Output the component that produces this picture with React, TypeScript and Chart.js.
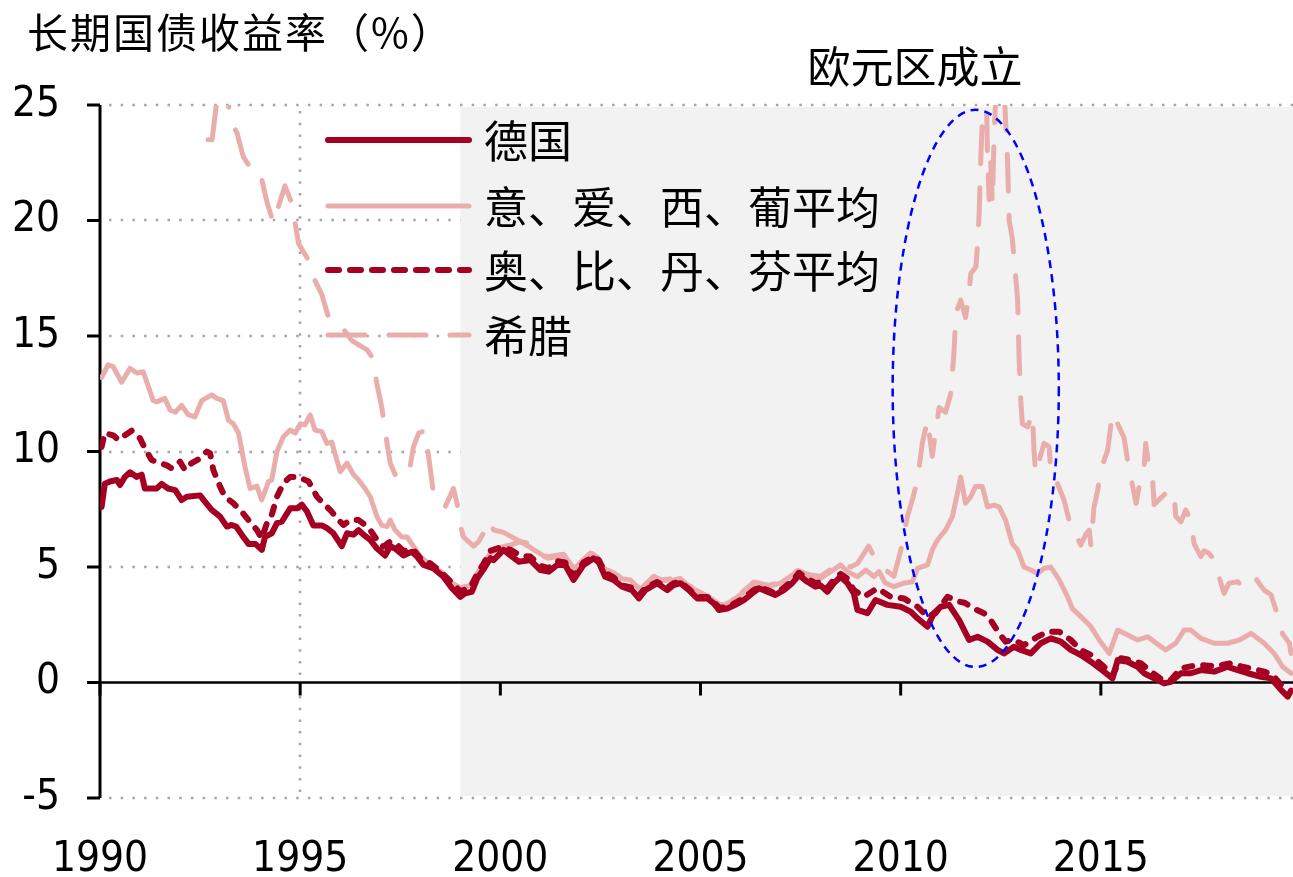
import React, { useEffect, useRef } from "react";
import { Chart, registerables } from "chart.js";

Chart.register(...registerables);

const TITLE = "长期国债收益率（%）";
const ANNOTATION = "欧元区成立";
const SERIES_NAMES = ["德国", "意、爱、西、葡平均", "奥、比、丹、芬平均", "希腊"];
const X_TICKS = [1990, 1995, 2000, 2005, 2010, 2015];
const Y_TICKS = [-5, 0, 5, 10, 15, 20, 25];
const EURO_START = 1999.0;
// ellipse highlighting the Greek crisis: [centerYear, centerValue, halfWidthYears, halfHeightValue]
const CRISIS_ELLIPSE = [2011.875, 12.73, 2.075, 12.06];

const germany: [number, number][] = [
  [1990.04, 7.6], [1990.12, 8.6], [1990.25, 8.7], [1990.42, 8.77], [1990.5, 8.55], [1990.62, 8.9], [1990.75, 9.1],
  [1990.92, 8.9], [1991.04, 9.0], [1991.12, 8.4], [1991.42, 8.4], [1991.54, 8.6], [1991.7, 8.4], [1991.88, 8.33],
  [1992.04, 7.9], [1992.17, 8.04], [1992.5, 8.1], [1992.62, 7.83], [1992.79, 7.47], [1993.0, 7.18], [1993.17, 6.75],
  [1993.29, 6.82], [1993.4, 6.75], [1993.54, 6.4], [1993.71, 6.0], [1993.88, 6.0], [1994.04, 5.74], [1994.12, 6.3],
  [1994.29, 6.46], [1994.42, 6.9], [1994.54, 6.96], [1994.75, 7.54], [1994.92, 7.54], [1995.04, 7.7], [1995.17, 7.4],
  [1995.33, 6.8], [1995.54, 6.8], [1995.67, 6.68], [1995.83, 6.46], [1996.04, 5.9], [1996.17, 6.46], [1996.33, 6.4],
  [1996.46, 6.6], [1996.58, 6.4], [1996.75, 6.17], [1996.92, 5.8], [1997.12, 5.5], [1997.25, 5.9], [1997.37, 5.8],
  [1997.58, 5.5], [1997.79, 5.66], [1997.92, 5.45], [1998.08, 5.09], [1998.33, 4.94], [1998.58, 4.58], [1998.79, 4.08],
  [1999.0, 3.71], [1999.12, 3.86], [1999.29, 3.93], [1999.42, 4.5], [1999.58, 4.9], [1999.75, 5.38], [1999.83, 5.3],
  [2000.08, 5.74], [2000.25, 5.5], [2000.46, 5.23], [2000.75, 5.3], [2001.0, 4.87], [2001.21, 4.8], [2001.42, 5.09],
  [2001.62, 5.09], [2001.83, 4.44], [2002.08, 5.09], [2002.33, 5.38], [2002.46, 5.2], [2002.62, 4.58], [2002.83, 4.44],
  [2003.04, 4.15], [2003.29, 4.0], [2003.46, 3.64], [2003.62, 4.0], [2003.92, 4.3], [2004.17, 4.0], [2004.33, 4.22],
  [2004.5, 4.3], [2004.71, 4.0], [2004.92, 3.64], [2005.17, 3.64], [2005.33, 3.43], [2005.46, 3.14], [2005.67, 3.2],
  [2005.87, 3.36], [2006.08, 3.57], [2006.29, 3.86], [2006.46, 4.08], [2006.67, 3.93], [2006.87, 3.79], [2007.08, 4.0],
  [2007.29, 4.3], [2007.46, 4.65], [2007.67, 4.36], [2007.87, 4.15], [2008.0, 4.2], [2008.17, 3.93], [2008.33, 4.3],
  [2008.5, 4.58], [2008.67, 4.3], [2008.83, 3.86], [2008.92, 3.14], [2009.17, 3.0], [2009.37, 3.57], [2009.67, 3.36],
  [2010.0, 3.28], [2010.25, 3.07], [2010.42, 2.78], [2010.67, 2.42], [2010.83, 3.0], [2011.0, 3.28], [2011.21, 3.36],
  [2011.46, 2.7], [2011.71, 1.84], [2011.92, 1.98], [2012.17, 1.77], [2012.42, 1.41], [2012.58, 1.26], [2012.83, 1.55],
  [2013.0, 1.41], [2013.25, 1.26], [2013.5, 1.7], [2013.75, 1.91], [2014.0, 1.77], [2014.25, 1.41], [2014.5, 1.19],
  [2014.75, 0.9], [2015.08, 0.47], [2015.29, 0.18], [2015.42, 0.97], [2015.67, 0.9], [2015.92, 0.68], [2016.08, 0.4],
  [2016.33, 0.18], [2016.58, -0.04], [2016.75, 0.03], [2017.0, 0.4], [2017.25, 0.4], [2017.5, 0.54], [2017.83, 0.47],
  [2018.17, 0.68], [2018.42, 0.54], [2018.67, 0.4], [2019.0, 0.25], [2019.25, 0.18], [2019.5, -0.32], [2019.67, -0.61],
  [2019.75, -0.35],
];

const periphery: [number, number][] = [
  [1990.04, 13.2], [1990.2, 13.75], [1990.33, 13.67], [1990.54, 13.0], [1990.75, 13.6], [1990.92, 13.4], [1991.08, 13.45],
  [1991.33, 12.2], [1991.42, 12.15], [1991.62, 12.3], [1991.75, 11.8], [1991.88, 11.7], [1992.04, 12.0], [1992.2, 11.6],
  [1992.37, 11.5], [1992.54, 12.2], [1992.79, 12.45], [1992.92, 12.3], [1993.08, 12.2], [1993.21, 11.35], [1993.33, 11.2],
  [1993.46, 10.8], [1993.62, 9.35], [1993.75, 8.4], [1993.92, 8.5], [1994.04, 7.9], [1994.21, 8.7], [1994.29, 8.77],
  [1994.42, 10.0], [1994.58, 10.64], [1994.75, 10.93], [1994.88, 10.8], [1995.0, 11.2], [1995.12, 11.15], [1995.25, 11.58],
  [1995.37, 10.93], [1995.54, 10.86], [1995.67, 10.35], [1995.79, 10.4], [1996.0, 9.13], [1996.17, 9.5], [1996.33, 9.0],
  [1996.46, 8.77], [1996.62, 8.4], [1996.75, 8.04], [1996.92, 7.18], [1997.04, 6.8], [1997.17, 6.75], [1997.25, 7.03],
  [1997.37, 6.6], [1997.54, 6.3], [1997.67, 6.3], [1997.83, 5.9], [1998.0, 5.45], [1998.17, 5.2], [1998.33, 5.0],
  [1998.6, 4.7], [1998.8, 4.3], [1999.0, 4.1], [1999.25, 4.2], [1999.45, 4.8], [1999.75, 5.6], [2000.0, 5.85],
  [2000.25, 5.95], [2000.5, 6.1], [2000.7, 5.9], [2000.92, 5.65], [2001.17, 5.38], [2001.58, 5.5], [2001.83, 4.87],
  [2002.0, 5.2], [2002.25, 5.6], [2002.4, 5.4], [2002.58, 4.9], [2002.83, 4.72], [2003.0, 4.5], [2003.25, 4.44],
  [2003.5, 4.0], [2003.83, 4.58], [2004.0, 4.4], [2004.33, 4.44], [2004.5, 4.5], [2004.83, 4.0], [2005.17, 3.71],
  [2005.5, 3.28], [2005.75, 3.5], [2006.0, 3.79], [2006.33, 4.3], [2006.71, 4.15], [2007.0, 4.3], [2007.42, 4.8],
  [2007.75, 4.58], [2008.0, 4.5], [2008.5, 5.09], [2008.67, 4.8], [2008.92, 4.58], [2009.13, 4.87], [2009.33, 4.58],
  [2009.46, 4.8], [2009.62, 4.3], [2009.83, 4.15], [2010.08, 4.3], [2010.29, 4.36], [2010.42, 4.94], [2010.67, 5.09],
  [2010.79, 5.74], [2010.92, 6.17], [2011.12, 6.6], [2011.29, 7.18], [2011.42, 8.2], [2011.5, 8.9], [2011.62, 7.76],
  [2011.75, 8.04], [2011.87, 8.48], [2012.04, 8.48], [2012.17, 7.6], [2012.33, 7.68], [2012.46, 7.6], [2012.62, 7.03],
  [2012.79, 6.0], [2012.92, 5.74], [2013.08, 5.0], [2013.25, 4.87], [2013.42, 4.72], [2013.58, 4.94], [2013.75, 5.0],
  [2013.96, 4.44], [2014.17, 3.71], [2014.29, 3.2], [2014.5, 2.85], [2014.75, 2.42], [2014.96, 1.84], [2015.21, 1.26],
  [2015.42, 2.27], [2015.67, 2.06], [2015.92, 1.84], [2016.17, 1.98], [2016.33, 1.77], [2016.62, 1.41], [2016.87, 1.7],
  [2017.08, 2.27], [2017.25, 2.27], [2017.5, 1.91], [2017.83, 1.7], [2018.17, 1.7], [2018.46, 1.84], [2018.75, 2.13],
  [2019.08, 1.7], [2019.33, 1.26], [2019.54, 0.68], [2019.75, 0.4],
];

const core: [number, number][] = [
  [1990.04, 10.2], [1990.12, 10.8], [1990.33, 10.7], [1990.46, 10.5], [1990.62, 10.7], [1990.79, 10.9], [1991.0, 10.57],
  [1991.12, 10.14], [1991.29, 9.63], [1991.5, 9.5], [1991.67, 9.4], [1991.79, 9.27], [1992.0, 9.56], [1992.12, 9.2],
  [1992.29, 9.5], [1992.5, 9.7], [1992.67, 10.0], [1992.75, 9.92], [1992.83, 9.2], [1993.0, 8.48], [1993.12, 8.04],
  [1993.33, 7.76], [1993.54, 7.4], [1993.71, 7.03], [1993.92, 6.6], [1994.04, 6.24], [1994.17, 6.9], [1994.29, 7.25],
  [1994.42, 8.04], [1994.58, 8.62], [1994.75, 8.9], [1994.96, 8.9], [1995.21, 8.7], [1995.33, 8.33], [1995.42, 8.04],
  [1995.62, 7.68], [1995.75, 7.47], [1995.96, 7.03], [1996.08, 6.82], [1996.25, 7.03], [1996.46, 7.03], [1996.62, 6.82],
  [1996.75, 6.6], [1996.92, 6.17], [1997.08, 5.88], [1997.25, 6.1], [1997.4, 6.0], [1997.58, 5.7], [1997.83, 5.74],
  [1998.04, 5.3], [1998.25, 5.16], [1998.5, 4.8], [1998.8, 4.3], [1999.0, 3.95], [1999.25, 4.1], [1999.42, 4.7],
  [1999.6, 5.2], [1999.75, 5.7], [2000.0, 5.85], [2000.25, 5.75], [2000.5, 5.5], [2000.75, 5.45], [2001.0, 5.05],
  [2001.2, 4.95], [2001.42, 5.25], [2001.62, 5.2], [2001.83, 4.6], [2002.08, 5.2], [2002.33, 5.45], [2002.46, 5.3],
  [2002.62, 4.75], [2002.83, 4.55], [2003.04, 4.2], [2003.29, 4.1], [2003.46, 3.75], [2003.62, 4.1], [2003.92, 4.35],
  [2004.17, 4.1], [2004.33, 4.3], [2004.5, 4.35], [2004.71, 4.05], [2004.92, 3.7], [2005.17, 3.7], [2005.33, 3.5],
  [2005.46, 3.25], [2005.67, 3.25], [2005.87, 3.45], [2006.08, 3.65], [2006.29, 3.95], [2006.46, 4.15], [2006.67, 4.0],
  [2006.87, 3.85], [2007.08, 4.1], [2007.29, 4.4], [2007.46, 4.75], [2007.67, 4.5], [2007.87, 4.3], [2008.0, 4.35],
  [2008.17, 4.1], [2008.33, 4.45], [2008.5, 4.7], [2008.67, 4.5], [2008.83, 4.0], [2009.08, 3.71], [2009.42, 4.08],
  [2009.75, 3.71], [2010.08, 3.64], [2010.42, 3.28], [2010.67, 2.85], [2010.87, 3.0], [2011.17, 3.71], [2011.46, 3.5],
  [2011.6, 3.45], [2011.83, 3.2], [2012.08, 3.0], [2012.25, 2.7], [2012.46, 2.13], [2012.62, 1.77], [2012.83, 1.84],
  [2013.08, 1.62], [2013.42, 1.98], [2013.67, 2.2], [2013.96, 2.2], [2014.25, 1.84], [2014.5, 1.41], [2014.75, 1.19],
  [2015.08, 0.68], [2015.29, 0.3], [2015.5, 1.05], [2015.75, 0.97], [2016.0, 0.83], [2016.25, 0.47], [2016.54, 0.11],
  [2016.75, 0.11], [2017.0, 0.61], [2017.25, 0.7], [2017.5, 0.76], [2017.83, 0.7], [2018.25, 0.83], [2018.5, 0.7],
  [2018.75, 0.61], [2019.08, 0.47], [2019.29, 0.32], [2019.5, -0.1], [2019.71, -0.25],
];

const greece: [number, number][] = [
  [1992.7, 23.5], [1992.8, 23.5], [1992.92, 25.2], [1993.05, 26.2], [1993.2, 25.2], [1993.25, 24.35], [1993.42, 23.8],
  [1993.58, 22.75], [1993.79, 22.2], [1994.0, 22.1], [1994.17, 20.8], [1994.33, 19.9], [1994.62, 21.5], [1994.79, 20.75],
  [1994.96, 19.0], [1995.17, 18.4], [1995.37, 17.4], [1995.54, 16.8], [1995.71, 15.8], [1995.83, 15.5], [1996.08, 15.3],
  [1996.29, 14.8], [1996.67, 14.4], [1996.79, 14.1], [1996.92, 12.9], [1997.04, 11.9], [1997.17, 10.35], [1997.25, 9.5],
  [1997.37, 9.0], [1997.67, 9.6], [1997.75, 9.4], [1997.83, 10.2], [1997.96, 10.8], [1998.12, 10.9], [1998.2, 9.9],
  [1998.33, 8.2], [1998.62, 7.6], [1998.83, 8.4], [1998.92, 7.75], [1999.0, 6.8], [1999.08, 6.3], [1999.33, 5.9],
  [1999.46, 6.1], [1999.75, 7.0], [1999.83, 6.6], [2000.08, 6.5], [2000.5, 6.1], [2000.75, 6.0], [2000.92, 5.65],
  [2001.17, 5.45], [2001.58, 5.55], [2001.83, 4.95], [2002.0, 5.25], [2002.25, 5.65], [2002.4, 5.45], [2002.58, 4.95],
  [2002.83, 4.75], [2003.0, 4.55], [2003.25, 4.5], [2003.5, 4.05], [2003.83, 4.6], [2004.0, 4.45], [2004.33, 4.5],
  [2004.5, 4.55], [2004.83, 4.05], [2005.17, 3.75], [2005.5, 3.35], [2005.75, 3.55], [2006.0, 3.85], [2006.33, 4.35],
  [2006.71, 4.2], [2007.0, 4.35], [2007.42, 4.85], [2007.75, 4.65], [2008.0, 4.6], [2008.5, 5.2], [2008.75, 5.0],
  [2008.92, 5.15], [2009.2, 5.9], [2009.38, 5.3], [2009.6, 4.9], [2009.83, 4.6], [2010.0, 5.7], [2010.17, 7.2],
  [2010.29, 7.9], [2010.42, 8.77], [2010.54, 10.35], [2010.67, 11.36], [2010.79, 9.8], [2010.83, 10.35], [2010.96, 11.9],
  [2011.12, 11.7], [2011.25, 12.5], [2011.29, 13.4], [2011.33, 14.25], [2011.38, 16.0], [2011.5, 16.55], [2011.62, 15.8],
  [2011.71, 16.85], [2011.75, 17.7], [2011.88, 18.0], [2011.92, 19.0], [2011.96, 20.3], [2012.0, 22.6], [2012.04, 24.35],
  [2012.1, 27.5], [2012.14, 25.5], [2012.17, 22.8], [2012.21, 20.9], [2012.25, 22.5], [2012.29, 20.75], [2012.33, 23.35],
  [2012.4, 26.5], [2012.5, 27.5], [2012.58, 25.8], [2012.62, 24.35], [2012.67, 22.6], [2012.71, 20.0], [2012.79, 19.2],
  [2012.88, 17.4], [2012.92, 16.6], [2012.96, 13.96], [2013.0, 12.2], [2013.04, 11.2], [2013.17, 11.07], [2013.29, 11.65],
  [2013.33, 10.06], [2013.37, 9.05], [2013.58, 10.35], [2013.71, 10.2], [2013.75, 9.05], [2013.79, 8.9], [2013.92, 8.6],
  [2014.08, 7.9], [2014.21, 7.0], [2014.38, 6.4], [2014.5, 5.95], [2014.62, 6.4], [2014.71, 6.6], [2014.75, 5.95],
  [2014.83, 7.6], [2014.92, 8.3], [2015.0, 9.2], [2015.17, 10.06], [2015.29, 11.65], [2015.42, 11.2], [2015.58, 10.6],
  [2015.67, 9.6], [2015.88, 7.75], [2016.0, 8.9], [2016.08, 9.3], [2016.12, 10.35], [2016.2, 9.35], [2016.29, 8.9],
  [2016.33, 7.7], [2016.62, 8.2], [2016.83, 8.3], [2016.87, 7.2], [2017.0, 6.96], [2017.12, 7.47], [2017.25, 7.0],
  [2017.33, 6.0], [2017.5, 5.45], [2017.58, 5.7], [2017.7, 5.6], [2017.83, 5.3], [2018.0, 4.3], [2018.08, 3.86],
  [2018.2, 4.3], [2018.42, 4.36], [2018.58, 4.08], [2018.87, 4.5], [2019.08, 4.0], [2019.25, 3.8], [2019.42, 2.9],
  [2019.54, 2.1], [2019.71, 1.7], [2019.75, 1.26],
];

const DARK_RED = "#A50021";
const PINK = "#E9AEAC";
const TICK_FONT = '"DejaVu Sans Condensed", "DejaVu Sans", sans-serif';
const CJK_FONT = '"Noto Sans CJK SC", sans-serif';

const STYLES = [
  { color: DARK_RED, dash: [] as number[], width: 6 },
  { color: PINK, dash: [] as number[], width: 5 },
  { color: DARK_RED, dash: [8, 11], width: 6 },
  { color: PINK, dash: [37, 24], width: 5 },
];

const toPts = (arr: [number, number][]) => arr.map(([x, y]) => ({ x, y }));

export default function App() {
  const ref = useRef<HTMLCanvasElement | null>(null);

  useEffect(() => {
    const canvas = ref.current;
    if (!canvas) return;

    const decor = {
      id: "decor",
      beforeDatasetsDraw(chart: any) {
        const { ctx, chartArea: a, scales } = chart;
        const x = scales.x;
        const y = scales.y;
        ctx.save();
        // dotted grid
        ctx.strokeStyle = "#A6A6A6";
        ctx.lineWidth = 2.5;
        ctx.lineCap = "butt";
        ctx.setLineDash([2.5, 9.2]);
        for (const v of Y_TICKS) {
          if (v === 0) continue;
          const py = Math.round(y.getPixelForValue(v));
          ctx.beginPath();
          ctx.moveTo(a.left + 9, py);
          ctx.lineTo(a.right, py);
          ctx.stroke();
        }
        for (const v of X_TICKS) {
          if (v === X_TICKS[0]) continue;
          const px = Math.round(x.getPixelForValue(v));
          ctx.beginPath();
          ctx.moveTo(px, a.top + 6);
          ctx.lineTo(px, a.bottom);
          ctx.stroke();
        }
        ctx.setLineDash([]);
        // euro area band
        const gx = x.getPixelForValue(EURO_START);
        ctx.fillStyle = "#F2F2F2";
        ctx.fillRect(gx, a.top + 2, a.right - gx, a.bottom - a.top - 4);
        // axes
        ctx.strokeStyle = "#000";
        ctx.lineWidth = 3;
        ctx.beginPath();
        ctx.moveTo(a.left, a.top);
        ctx.lineTo(a.left, a.bottom);
        ctx.stroke();
        for (const v of Y_TICKS) {
          const py = y.getPixelForValue(v);
          ctx.beginPath();
          ctx.moveTo(a.left - 13, py);
          ctx.lineTo(a.left, py);
          ctx.stroke();
        }
        const zy = y.getPixelForValue(0);
        ctx.lineWidth = 2.5;
        ctx.beginPath();
        ctx.moveTo(a.left - 13, zy);
        ctx.lineTo(a.right, zy);
        ctx.stroke();
        ctx.lineWidth = 3;
        for (const v of X_TICKS) {
          const px = x.getPixelForValue(v);
          ctx.beginPath();
          ctx.moveTo(px, zy);
          ctx.lineTo(px, zy + 13);
          ctx.stroke();
        }
        ctx.restore();
      },
      afterDatasetsDraw(chart: any) {
        const { ctx, scales } = chart;
        const x = scales.x;
        const y = scales.y;
        ctx.save();
        // crisis ellipse
        const [cxv, cyv, rxv, ryv] = CRISIS_ELLIPSE;
        const cx = x.getPixelForValue(cxv);
        const cy = y.getPixelForValue(cyv);
        const rx = x.getPixelForValue(cxv + rxv) - cx;
        const ry = cy - y.getPixelForValue(cyv + ryv);
        ctx.strokeStyle = "#0000FF";
        ctx.lineWidth = 2.5;
        ctx.setLineDash([8, 6]);
        ctx.beginPath();
        ctx.ellipse(cx, cy, rx, ry, 0, 0, Math.PI * 2);
        ctx.stroke();
        ctx.setLineDash([]);

        // legend
        const rows = [140, 206, 270, 335];
        ctx.lineCap = "round";
        SERIES_NAMES.forEach((name, i) => {
          const st = STYLES[i];
          ctx.strokeStyle = st.color;
          ctx.lineWidth = st.width;
          ctx.setLineDash(i === 2 ? [11, 11] : st.dash);
          ctx.beginPath();
          ctx.moveTo(328, rows[i]);
          ctx.lineTo(469, rows[i]);
          ctx.stroke();
          ctx.setLineDash([]);
          ctx.fillStyle = "#000";
          ctx.font = `44px ${CJK_FONT}`;
          ctx.textAlign = "left";
          ctx.textBaseline = "middle";
          ctx.fillText(name, 484, rows[i] + 1);
        });
        ctx.restore();
      },
      afterDraw(chart: any) {
        const { ctx } = chart;
        ctx.save();
        ctx.fillStyle = "#000";
        ctx.textBaseline = "middle";
        ctx.textAlign = "left";
        ctx.font = `41px ${CJK_FONT}`;
        try {
          (ctx as any).letterSpacing = "2px";
        } catch (e) {}
        ctx.fillText(TITLE, 27, 32);
        try {
          (ctx as any).letterSpacing = "0px";
        } catch (e) {}
        ctx.textAlign = "center";
        ctx.font = `43px ${CJK_FONT}`;
        ctx.fillText(ANNOTATION, 915, 67);
        ctx.restore();
      },
    };

    const mk = (label: string, arr: [number, number][], i: number) => ({
      label,
      data: toPts(arr),
      borderColor: STYLES[i].color,
      backgroundColor: STYLES[i].color,
      borderWidth: STYLES[i].width,
      borderDash: STYLES[i].dash,
      borderCapStyle: "round",
      borderJoinStyle: "round",
      pointRadius: 0,
      tension: 0,
      fill: false,
    });

    const chart = new Chart(canvas, {
      type: "line",
      data: {
        datasets: [
          mk(SERIES_NAMES[0], germany, 0),
          mk(SERIES_NAMES[2], core, 2),
          mk(SERIES_NAMES[1], periphery, 1),
          mk(SERIES_NAMES[3], greece, 3),
        ] as any,
      },
      options: {
        animation: false,
        responsive: false,
        maintainAspectRatio: false,
        layout: { padding: { top: 105, left: 0, right: 0, bottom: 0 } },
        plugins: { legend: { display: false }, tooltip: { enabled: false } },
        scales: {
          x: {
            type: "linear",
            min: 1990,
            max: 2019.8,
            grid: { display: false, drawTicks: false },
            border: { display: false },
            ticks: {
              stepSize: 5,
              includeBounds: false,
              autoSkip: false,
              maxRotation: 0,
              padding: 37,
              color: "#000",
              font: { family: TICK_FONT, size: 42, lineHeight: 1.2 },
              callback: (v: any) => String(v),
            },
            afterFit: (s: any) => {
              s.height = 79;
            },
          },
          y: {
            type: "linear",
            min: -5,
            max: 25,
            grid: { display: false, drawTicks: false },
            border: { display: false },
            ticks: {
              stepSize: 5,
              padding: 40,
              color: "#000",
              font: { family: TICK_FONT, size: 42, lineHeight: 1.2 },
              callback: (v: any) => String(v),
            },
            afterFit: (s: any) => {
              s.width = 100;
            },
          },
        },
      } as any,
      plugins: [decor],
    });

    return () => chart.destroy();
  }, []);

  return (
    <div style={{ position: "fixed", left: 0, top: 0, width: 1293, height: 877, background: "#fff" }}>
      <canvas ref={ref} width={1293} height={877} style={{ display: "block", width: 1293, height: 877 }} />
    </div>
  );
}
